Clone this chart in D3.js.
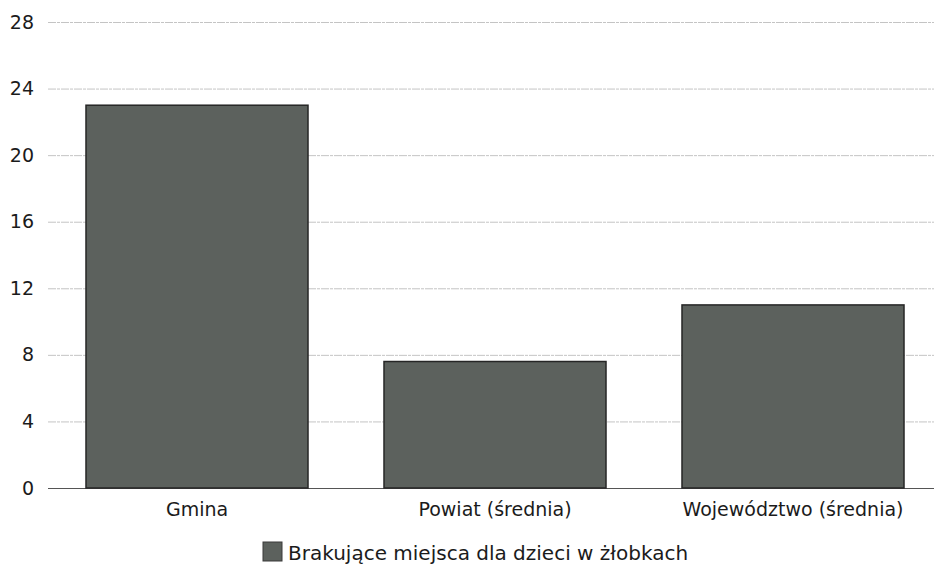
<!DOCTYPE html>
<html lang="pl">
<head>
  <meta charset="UTF-8">
  <title>Brakujące miejsca w żłobkach</title>
  <script src="https://d3js.org/d3.v7.min.js"></script>
  <style>
    body { margin: 0; background: #fff; }
    text { font-family: "DejaVu Sans", Verdana, sans-serif; fill: #1b1b1b; }
  </style>
</head>
<body>
  <div id="chart"></div>
  <script>
    // dane
    const categories = ["Gmina", "Powiat (średnia)", "Województwo (średnia)"];
    const values = [23.0, 7.6, 11.0];
    const yTicks = [0, 4, 8, 12, 16, 20, 24, 28];
    const seriesName = "Brakujące miejsca dla dzieci w żłobkach";

    const width = 934, height = 567;
    const plotLeft = 48, plotRight = 942, plotTop = 22, plotBottom = 488;

    const svg = d3.select("#chart").append("svg")
      .attr("width", width)
      .attr("height", height);

    const x = d3.scaleBand()
      .domain(categories)
      .range([plotLeft, plotRight])
      .paddingInner(0.255)
      .paddingOuter(0.1275);

    const y = d3.scaleLinear()
      .domain([0, 28])
      .range([plotBottom, plotTop]);

    // linie siatki
    svg.append("g")
      .selectAll("line")
      .data(yTicks)
      .enter()
      .append("line")
      .attr("x1", plotLeft)
      .attr("x2", width)
      .attr("y1", d => y(d) + 0.5)
      .attr("y2", d => y(d) + 0.5)
      .attr("stroke", d => d === 0 ? "#555" : "#c4c4c4")
      .attr("stroke-width", 1)
      .attr("stroke-dasharray", d => d === 0 ? null : "8,1,3,1");

    // oś Y
    const yAxis = svg.append("g")
      .attr("transform", `translate(${plotLeft - 14},0)`)
      .call(d3.axisLeft(y).tickValues(yTicks).tickSize(0).tickPadding(0));
    yAxis.select(".domain").remove();
    yAxis.selectAll("text")
      .attr("font-size", 19)
      .style("font-family", "'DejaVu Sans', Verdana, sans-serif")
      .attr("fill", "#1b1b1b");

    // słupki
    svg.append("g")
      .selectAll("rect")
      .data(values)
      .enter()
      .append("rect")
      .attr("x", (d, i) => x(categories[i]))
      .attr("y", d => y(d))
      .attr("width", x.bandwidth())
      .attr("height", d => y(0) - y(d))
      .attr("fill", "#5c615d")
      .attr("stroke", "#262626")
      .attr("stroke-width", 1.5);

    // oś X
    const xAxis = svg.append("g")
      .attr("transform", `translate(0,${plotBottom})`)
      .call(d3.axisBottom(x).tickSize(0).tickPadding(15));
    xAxis.select(".domain").remove();
    xAxis.selectAll("text")
      .attr("font-size", 19)
      .style("font-family", "'DejaVu Sans', Verdana, sans-serif")
      .attr("fill", "#1b1b1b");

    // legenda
    const legend = svg.append("g").attr("transform", "translate(263,542)");
    legend.append("rect")
      .attr("width", 19)
      .attr("height", 19)
      .attr("fill", "#5c615d")
      .attr("stroke", "#3a3a3a");
    legend.append("text")
      .attr("x", 25)
      .attr("y", 18)
      .attr("font-size", 20)
      .text(seriesName);
  </script>
</body>
</html>
